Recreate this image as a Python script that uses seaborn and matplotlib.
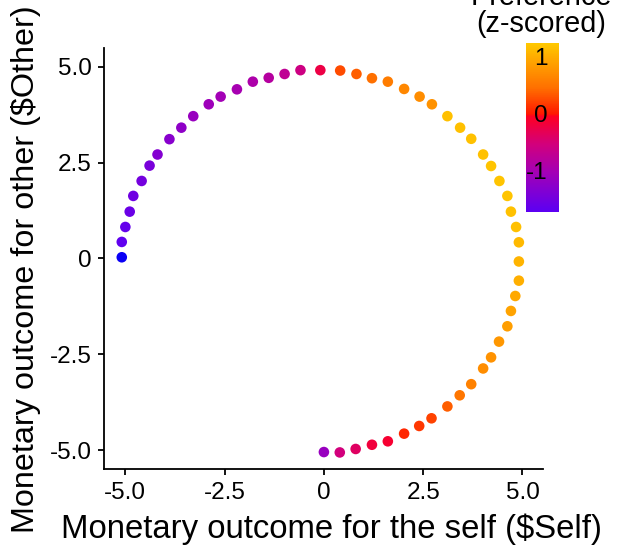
import matplotlib
matplotlib.use("Agg")
import matplotlib as mpl
import matplotlib.pyplot as plt
import matplotlib.transforms as mtransforms
from matplotlib.colors import LinearSegmentedColormap, Normalize
import numpy as np
import pandas as pd
import seaborn as sns

# ---------------- data ----------------
self_values = [
    -5.09, -5.09, -5.00, -4.89, -4.80, -4.59, -4.39, -4.19, -3.89, -3.59,
    -3.29, -2.90, -2.60, -2.19, -1.79, -1.39, -0.99, -0.59, -0.09, 0.41,
    0.82, 1.21, 1.61, 2.02, 2.41, 2.72, 3.11, 3.43, 3.71, 4.01,
    4.21, 4.42, 4.62, 4.71, 4.84, 4.91, 4.91, 4.91, 4.82, 4.71,
    4.62, 4.41, 4.21, 4.01, 3.71, 3.42, 3.11, 2.71, 2.40, 2.02,
    1.61, 1.21, 0.80, 0.40, 0.00,
]
other_values = [
    0.03, 0.43, 0.82, 1.22, 1.63, 2.02, 2.42, 2.71, 3.11, 3.41,
    3.71, 4.02, 4.22, 4.41, 4.61, 4.71, 4.81, 4.91, 4.91, 4.90,
    4.81, 4.70, 4.61, 4.42, 4.22, 4.02, 3.71, 3.41, 3.12, 2.71,
    2.41, 2.02, 1.63, 1.22, 0.82, 0.42, -0.08, -0.58, -0.98, -1.37,
    -1.77, -2.17, -2.58, -2.87, -3.28, -3.57, -3.86, -4.17, -4.37, -4.57,
    -4.77, -4.86, -4.97, -5.06, -5.05,
]
preference_z = [
    -1.95, -1.65, -1.60, -1.55, -1.50, -1.45, -1.40, -1.30, -1.25, -1.20,
    -1.10, -1.05, -1.00, -0.95, -0.90, -0.80, -0.70, -0.55, -0.20, 0.30,
    0.40, 0.50, 0.60, 0.70, 0.75, 0.80, 1.20, 1.20, 1.22, 1.22,
    1.24, 1.24, 1.24, 1.22, 1.20, 1.15, 1.10, 1.05, 1.00, 0.95,
    0.90, 0.85, 0.80, 0.75, 0.65, 0.55, 0.40, 0.25, 0.20, 0.10,
    -0.10, -0.15, -0.35, -0.50, -1.10,
]

x_ticks = [-5.0, -2.5, 0.0, 2.5, 5.0]
x_tick_labels = ["-5.0", "-2.5", "0", "2.5", "5.0"]
y_ticks = [-5.0, -2.5, 0.0, 2.5, 5.0]
y_tick_labels = ["-5.0", "-2.5", "0", "2.5", "5.0"]
cbar_ticks = [-1, 0, 1]
cbar_tick_labels = ["-1", "0", "1"]
pref_range = (-1.69, 1.28)

x_label = "Monetary outcome for the self ($Self)"
y_label = "Monetary outcome for other ($Other)"
legend_title = "Preference\n(z-scored)"

# ---------------- styling ----------------
sns.set_theme(style="white")
plt.rcParams["font.family"] = ["Liberation Sans", "DejaVu Sans"]
plt.rcParams["text.color"] = "black"

df = pd.DataFrame({"self": self_values, "other": other_values, "pref": preference_z})

vmin, vmax = pref_range
stops = [
    (-1.69, "#5c00f2"),
    (-1.00, "#a300b6"),
    (-0.50, "#d2007c"),
    (0.00, "#ff0020"),
    (0.03, "#ff1800"),
    (0.50, "#ff7000"),
    (1.00, "#ffa800"),
    (1.28, "#ffc800"),
]
cmap = LinearSegmentedColormap.from_list(
    "pref", [((v - vmin) / (vmax - vmin), c) for v, c in stops]
).with_extremes(under="#0a00f5")
norm = Normalize(vmin=vmin, vmax=vmax)

fig = plt.figure(figsize=(6.21, 5.5), dpi=100)
W, H = 621.0, 550.0
ax = fig.add_axes([104.3 / W, 1 - 469.3 / H, (542.7 - 104.3) / W, (469.3 - 48.3) / H])

sns.scatterplot(
    data=df, x="self", y="other", hue="pref", palette=cmap, hue_norm=norm,
    s=58, linewidth=0, legend=False, ax=ax,
)

ax.set_xlim(-5.53, 5.51)
ax.set_ylim(-5.50, 5.48)
ax.set_xticks(x_ticks)
ax.set_xticklabels(x_tick_labels)
ax.set_yticks(y_ticks)
ax.set_yticklabels(y_tick_labels)
for side in ["top", "right"]:
    ax.spines[side].set_visible(False)
for side in ["left", "bottom"]:
    ax.spines[side].set_color("black")
    ax.spines[side].set_linewidth(1.3)
ax.tick_params(axis="both", direction="out", length=4, width=1.3, color="black",
               labelsize=17.5, labelcolor="black", pad=5,
               bottom=True, left=True)
ax.set_xlabel(x_label, fontsize=23.7, color="black")
ax.set_ylabel(y_label, fontsize=23.3, color="black")
ax.xaxis.set_label_coords(0.517, -0.105)
ax.yaxis.set_label_coords(-0.145, 0.475)
ax.grid(False)

# ---------------- colourbar ----------------
cax = fig.add_axes([525.7 / W, 1 - 211.7 / H, 33.6 / W, 168.4 / H])
sm = mpl.cm.ScalarMappable(norm=norm, cmap=cmap)
cbar = fig.colorbar(sm, cax=cax)
cbar.outline.set_visible(False)
cbar.set_ticks(cbar_ticks)
cax.tick_params(axis="y", direction="in", length=5, width=1, colors="white",
                left=True, right=True, labelleft=False, labelright=False)
trans = mtransforms.blended_transform_factory(cax.transAxes, cax.transData)
for t, lab in zip(cbar_ticks, cbar_tick_labels):
    cax.text(0.66, t, lab, transform=trans, ha="right", va="center",
             fontsize=17.5, color="black")

fig.text(541 / W, 1 - 38 / H, legend_title, ha="center", va="bottom",
         multialignment="center", fontsize=20.8, color="black", linespacing=0.95)

fig.savefig("out.png", dpi=100, facecolor="white")
